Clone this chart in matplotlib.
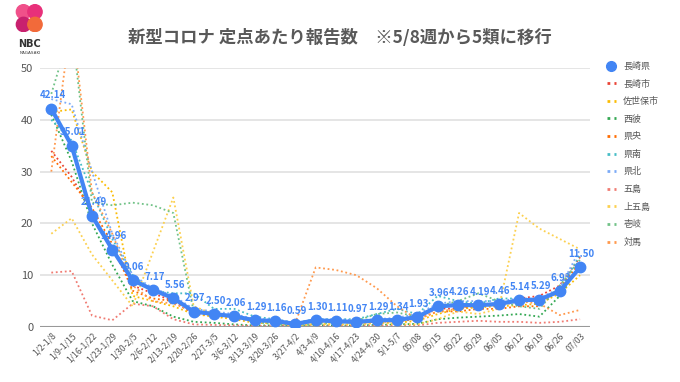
import matplotlib
matplotlib.use('Agg')
import matplotlib.pyplot as plt
from matplotlib.patches import Circle
from matplotlib.lines import Line2D

plt.rcParams['font.family'] = ['Noto Sans CJK JP', 'DejaVu Sans']

weeks = ['1/2-1/8', '1/9-1/15', '1/16-1/22', '1/23-1/29', '1/30-2/5', '2/6-2/12',
         '2/13-2/19', '2/20-2/26', '2/27-3/5', '3/6-3/12', '3/13-3/19', '3/20-3/26',
         '3/27-4/2', '4/3-4/9', '4/10-4/16', '4/17-4/23', '4/24-4/30', '5/1-5/7',
         '05/08', '05/15', '05/22', '05/29', '06/05', '06/12', '06/19', '06/26', '07/03']

nagasaki_pref = [42.14, 35.01, 21.49, 14.96, 9.06, 7.17, 5.56, 2.97, 2.50, 2.06, 1.29, 1.16,
                 0.59, 1.30, 1.11, 0.97, 1.29, 1.34, 1.93, 3.96, 4.26, 4.19, 4.46, 5.14,
                 5.29, 6.93, 11.50]

nagasaki_city = [34, 29, 22, 15, 8, 6.5, 5, 2.5, 2.2, 1.8, 1.1, 1.0, 0.5, 1.2, 1.0, 0.9,
                 1.1, 1.3, 1.8, 3.6, 3.5, 4.0, 4.2, 5.5, 6.0, 8.0, 13.5]
sasebo = [41.5, 42, 30, 26, 6, 5, 4, 2.5, 2, 1.5, 0.8, 0.7, 0.3, 0.6, 0.5, 0.5, 0.8, 0.8,
          1.2, 2.5, 3.5, 3.8, 4.0, 4.2, 4.5, 6.5, 10]
saihi = [41, 32, 20, 12, 5, 4, 2, 1, 0.8, 0.5, 0.3, 0.3, 0.2, 0.3, 0.3, 0.3, 0.4, 0.5,
         0.6, 1.5, 1.8, 2.0, 2.2, 2.5, 2.0, 6, 12]
kenou = [33, 28, 23, 16, 7, 5.5, 5, 3, 2.5, 2, 1.2, 1.0, 0.6, 1.0, 1.0, 0.8, 1.0, 1.1,
         1.5, 3.0, 3.0, 3.5, 3.5, 4.0, 4.0, 7.5, 12.5]
kennan = [40, 36, 26, 17, 10, 7, 6.5, 6.5, 3.5, 3.5, 2, 1.5, 0.8, 1.5, 1.5, 1.5, 2.5, 3.5,
          2.5, 6, 5, 4.5, 5.5, 5.5, 5, 7, 14]
kenpoku = [44, 43, 30, 18, 10, 7.5, 6, 3.5, 3, 2.5, 1.5, 1.5, 0.8, 1.5, 1.5, 1.3, 1.5, 1.8,
           2.5, 4.5, 5, 5, 5, 5.5, 5.5, 7.5, 15]
goto = [10.5, 10.8, 2.2, 1.3, 4.5, 4, 1.5, 0.5, 0.4, 0.3, 0.2, 0.2, 0.5, 0.3, 0.2, 0.2,
        0.3, 0.2, 0.3, 0.8, 1.0, 1.2, 1.0, 1.0, 0.8, 1.0, 1.5]
kamigoto = [18, 21, 14, 9, 4, 14.5, 25, 4, 2.5, 2, 1, 0.8, 0.3, 0.5, 0.5, 0.5, 0.8, 0.5,
            0.5, 1.5, 3, 2.5, 3.5, 22, 19, 17, 15]
iki = [45, 58, 24, 23.5, 24, 23.5, 22, 3, 2.5, 2, 1, 0.5, 0.3, 0.5, 1, 1.2, 2.5, 2.8,
       2, 4, 5, 6.5, 5, 4, 3.5, 8, 13]
tsushima = [30, 60, 26, 18, 8, 5, 4.5, 3, 2.5, 2, 1.5, 1.2, 0.8, 11.5, 11, 10, 7.5, 4,
            1.5, 3, 3.5, 4.5, 4, 5, 4.5, 2.3, 3.3]

sub_names = ['長崎市', '佐世保市', '西彼', '県央', '県南', '県北', '五島', '上五島', '壱岐', '対馬']
sub_series = [nagasaki_city, sasebo, saihi, kenou, kennan, kenpoku, goto, kamigoto, iki, tsushima]
sub_colors = ['#EA4335', '#FBBC04', '#34A853', '#FF6D01', '#46BDC6', '#7BAAF7',
              '#F07B72', '#FCD04F', '#71C287', '#FF994D']
main_color = '#4285F4'

fig = plt.figure(figsize=(6.8, 3.82), dpi=100)
fig.patch.set_facecolor('white')
ax = fig.add_axes([0.059, 0.144, 0.809, 0.678])

x = list(range(len(weeks)))
for vals, c in zip(sub_series, sub_colors):
    ax.plot(x, vals, color=c, linestyle=(0, (1, 1.5)), linewidth=1.3, zorder=2)

ax.plot(x, nagasaki_pref, color=main_color, linewidth=3, marker='o', markersize=7.5,
        zorder=4)
for xi, v in zip(x, nagasaki_pref):
    ax.annotate(f'{v:.2f}', (xi, v), xytext=(1, 6), textcoords='offset points',
                ha='center', va='bottom', fontsize=7, color=main_color,
                fontweight='bold', zorder=5)

ax.set_xlim(-0.55, 26.5)
ax.set_ylim(0, 50)
ax.set_yticks([0, 10, 20, 30, 40, 50])
ax.grid(axis='y', color='#e0e0e0', linewidth=1.2)
ax.set_axisbelow(True)
for s in ['top', 'right', 'left', 'bottom']:
    ax.spines[s].set_visible(False)
ax.axhline(0, color='#999999', linewidth=1.5, zorder=3)
ax.tick_params(axis='y', length=0, labelsize=8, colors='#555555', pad=5)
ax.tick_params(axis='x', length=0, labelsize=6.2, colors='#555555', pad=3)
ax.set_xticks(x)
ax.set_xticklabels(weeks, rotation=45, ha='right', rotation_mode='anchor')

fig.text(0.5, 0.9, '新型コロナ 定点あたり報告数　※5/8週から5類に移行',
         ha='center', va='center', fontsize=12.5, fontweight='bold', color='#595959')

# legend
handles = [Line2D([], [], color=main_color, marker='o', linestyle='none', markersize=7)]
for c in sub_colors:
    handles.append(Line2D([], [], color=c, linestyle=(0, (1, 1.5)), linewidth=2))
fig.legend(handles, ['長崎県'] + sub_names, loc='upper left',
           bbox_to_anchor=(0.88, 0.86), frameon=False, fontsize=6.5,
           handlelength=1.05, labelspacing=0.95, handletextpad=0.8,
           labelcolor='#555555')

# NBC logo
logo = fig.add_axes([0.018, 0.915, 0.05, 0.075])
logo.set_xlim(0, 1)
logo.set_ylim(0, 1)
logo.set_aspect('equal')
logo.axis('off')
for (cx, cy), col in zip([(0.3, 0.72), (0.7, 0.72), (0.3, 0.28), (0.7, 0.28)],
                         ['#f0508a', '#e8307a', '#c8206e', '#f26a3a']):
    logo.add_patch(Circle((cx, cy), 0.25, color=col))
fig.text(0.044, 0.885, 'NBC', ha='center', va='center', fontsize=7,
         fontweight='bold', color='#333333', family='DejaVu Sans')
fig.text(0.044, 0.86, 'NAGASAKI', ha='center', va='center', fontsize=3,
         color='#333333', family='DejaVu Sans')

fig.savefig('out.png', dpi=100)
